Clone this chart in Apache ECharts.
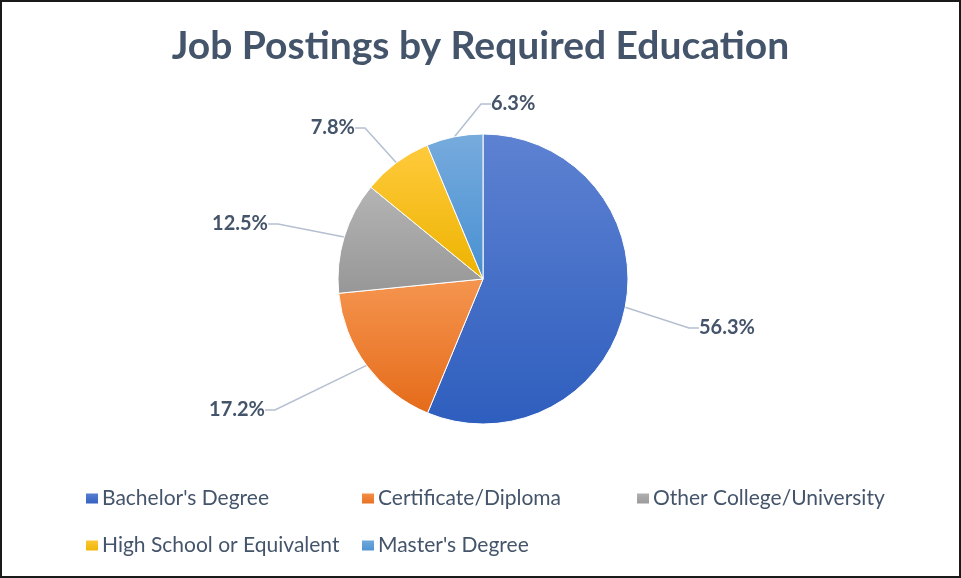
<!DOCTYPE html>
<html>
<head>
<meta charset="utf-8">
<script src="https://cdn.jsdelivr.net/npm/echarts@6/dist/echarts.min.js"></script>
<style>
html,body{margin:0;padding:0;background:#fff;}
#chart{width:961px;height:578px;box-sizing:border-box;border:2px solid #1a1a1a;}
</style>
</head>
<body>
<div id="chart"></div>
<script>
const categories = ["Bachelor's Degree", "Certificate/Diploma", "Other College/University", "High School or Equivalent", "Master's Degree"];
const values = [56.3, 17.2, 12.5, 7.8, 6.3];
const titleText = "Job Postings by Required Education";

// gradient colours [top, bottom]
const sliceColors = [
  ['#5E82D2', '#2E5EBE'],
  ['#F5954F', '#E56B1A'],
  ['#B4B4B4', '#979797'],
  ['#FFCA3C', '#EDB300'],
  ['#77ABDD', '#4890D2']
];
// label anchor points (x, y, align) for the outside labels
const labelAnchors = [
  [697, 326, 'left'],
  [263, 408, 'right'],
  [266, 222, 'right'],
  [353, 126, 'right'],
  [489, 102, 'left']
];

const chart = echarts.init(document.getElementById('chart'), null, {renderer: 'canvas'});
const txt = '#44546A';
const font = 'Lato, "Open Sans", sans-serif';

const data = categories.map((n, i) => ({
  name: n,
  value: values[i],
  itemStyle: {
    color: new echarts.graphic.LinearGradient(0, 0, 0, 1, [
      {offset: 0, color: sliceColors[i][0]},
      {offset: 1, color: sliceColors[i][1]}
    ])
  }
}));

const legendBase = {
  orient: 'vertical',
  top: 481,
  itemWidth: 14,
  itemHeight: 12,
  itemGap: 26,
  icon: 'rect',
  textStyle: {color: txt, fontSize: 21, fontFamily: font, padding: [0, 0, 0, -2]},
  selectedMode: false
};

chart.setOption({
  animation: false,
  backgroundColor: '#fff',
  title: {
    text: titleText,
    left: 'center',
    top: 20,
    textStyle: {color: txt, fontSize: 39, fontWeight: 'bold', fontFamily: font}
  },
  legend: [
    Object.assign({}, legendBase, {left: 77, data: [categories[0], categories[3]]}),
    Object.assign({}, legendBase, {left: 353, data: [categories[1], categories[4]]}),
    Object.assign({}, legendBase, {left: 628, data: [categories[2]]})
  ],
  series: [{
    type: 'pie',
    center: [481, 277],
    radius: 145,
    startAngle: 90,
    clockwise: true,
    itemStyle: {borderColor: '#fff', borderWidth: 1},
    label: {
      show: true,
      position: 'outside',
      formatter: p => p.value.toFixed(1) + '%',
      color: txt,
      fontSize: 20,
      fontWeight: 'bold',
      fontFamily: font
    },
    labelLine: {
      show: true,
      length: 20,
      length2: 10,
      lineStyle: {color: '#B4C0D0', width: 1.5}
    },
    labelLayout: function (params) {
      const a = labelAnchors[params.dataIndex];
      return {x: a[0], y: a[1], align: a[2], verticalAlign: 'middle'};
    },
    emphasis: {disabled: true},
    data: data
  }]
});
</script>
</body>
</html>
